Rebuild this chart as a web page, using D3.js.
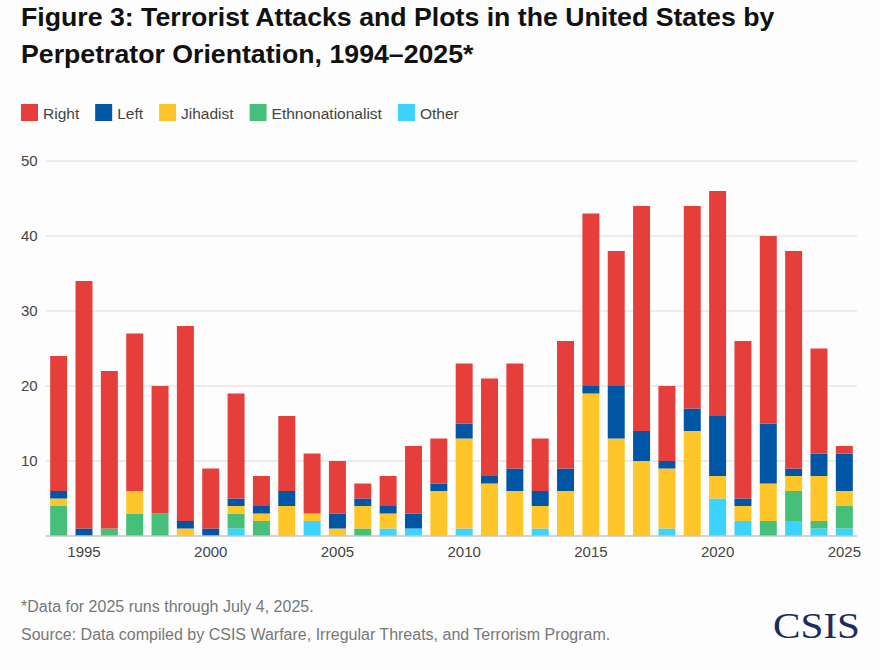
<!DOCTYPE html>
<html>
<head>
<meta charset="utf-8">
<script src="https://cdn.jsdelivr.net/npm/d3@7"></script>
<style>
  html, body { margin: 0; padding: 0; background: #fdfdfd; }
  svg { display: block; font-family: "Liberation Sans", Arial, sans-serif; }
</style>
</head>
<body>
<svg id="chart"></svg>
<script>
// data
const years = d3.range(1994, 2026);
const right = [18, 33, 21, 21, 17, 26, 8, 14, 4, 10, 8, 7, 2, 4, 9, 6, 8, 13, 14, 7, 17, 23, 18, 30, 10, 27, 30, 21, 25, 29, 14, 1];
const left = [1, 1, 0, 0, 0, 1, 1, 1, 1, 2, 0, 2, 1, 1, 2, 1, 2, 1, 3, 2, 3, 1, 7, 4, 1, 3, 8, 1, 8, 1, 3, 5];
const jihadist = [1, 0, 0, 3, 0, 1, 0, 1, 1, 4, 1, 1, 3, 2, 0, 6, 12, 7, 6, 3, 6, 19, 13, 10, 8, 14, 3, 2, 5, 2, 6, 2];
const ethno = [4, 0, 1, 3, 3, 0, 0, 2, 2, 0, 0, 0, 1, 0, 0, 0, 0, 0, 0, 0, 0, 0, 0, 0, 0, 0, 0, 0, 2, 4, 1, 3];
const other = [0, 0, 0, 0, 0, 0, 0, 1, 0, 0, 2, 0, 0, 1, 1, 0, 1, 0, 0, 1, 0, 0, 0, 0, 1, 0, 5, 2, 0, 2, 1, 1];
const yTicks = [10, 20, 30, 40, 50];
const xTicks = [1995, 2000, 2005, 2010, 2015, 2020, 2025];

const series = [
    { key: 'Other', values: other, color: '#3dd3ff' },
    { key: 'Ethnonationalist', values: ethno, color: '#45bf79' },
    { key: 'Jihadist', values: jihadist, color: '#ffc629' },
    { key: 'Left', values: left, color: '#0055a5' },
    { key: 'Right', values: right, color: '#e63e3b' }
];
const legendOrder = ['Right', 'Left', 'Jihadist', 'Ethnonationalist', 'Other'];

const width = 880,
    height = 670;

const svg = d3.select('#chart')
    .attr('width', width)
    .attr('height', height);

// title
const title = svg.append('text')
    .attr('x', 21)
    .attr('y', 26)
    .style('font-weight', 'bold')
    .style('font-size', '26.7px')
    .style('fill', '#111');
title.append('tspan')
    .attr('x', 21)
    .text('Figure 3: Terrorist Attacks and Plots in the United States by');
title.append('tspan')
    .attr('x', 21)
    .attr('dy', 37)
    .text('Perpetrator Orientation, 1994–2025*');

// legend
let lx = 21;
legendOrder.forEach(k => {
    const s = series.find(d => d.key === k);
    const g = svg.append('g').attr('transform', `translate(${lx},104)`);
    g.append('rect')
        .attr('width', 17)
        .attr('height', 17)
        .style('fill', s.color);
    const t = g.append('text')
        .attr('x', 22)
        .attr('y', 14.5)
        .style('font-size', '15.5px')
        .style('fill', '#444')
        .text(k);
    lx += 22 + t.node().getComputedTextLength() + 16;
});

// scales
const x = d3.scaleBand()
    .domain(years)
    .range([46, 857])
    .paddingInner(0.33)
    .paddingOuter(0.165);

const y = d3.scaleLinear()
    .domain([0, 50])
    .range([536, 161]);

// gridlines
svg.append('g')
    .selectAll('line')
    .data(yTicks)
    .enter().append('line')
    .attr('x1', 46)
    .attr('x2', 857)
    .attr('y1', d => y(d))
    .attr('y2', d => y(d))
    .style('stroke', '#e6e6e6')
    .style('stroke-width', 1.5);

svg.append('g')
    .selectAll('text')
    .data(yTicks)
    .enter().append('text')
    .attr('x', 21)
    .attr('y', d => y(d) + 5)
    .style('font-size', '15px')
    .style('fill', '#444')
    .text(d => d);

// stacked bars
const table = years.map((yr, i) => {
    const row = { year: yr };
    series.forEach(s => { row[s.key] = s.values[i]; });
    return row;
});
const stacked = d3.stack().keys(series.map(s => s.key))(table);

svg.append('g')
    .selectAll('g')
    .data(stacked)
    .enter().append('g')
    .style('fill', (d, i) => series[i].color)
    .selectAll('rect')
    .data(d => d)
    .enter().append('rect')
    .attr('x', d => x(d.data.year))
    .attr('width', x.bandwidth())
    .attr('y', d => y(d[1]))
    .attr('height', d => y(d[0]) - y(d[1]));

// baseline
svg.append('line')
    .attr('x1', 46)
    .attr('x2', 857)
    .attr('y1', 536)
    .attr('y2', 536)
    .style('stroke', '#c4c4c4')
    .style('stroke-width', 1.5);

// x ticks
svg.append('g')
    .selectAll('text')
    .data(xTicks)
    .enter().append('text')
    .attr('x', d => x(d) + x.bandwidth() / 2)
    .attr('y', 557)
    .attr('text-anchor', 'middle')
    .style('font-size', '15px')
    .style('fill', '#444')
    .text(d => d);

// footer
svg.append('text')
    .attr('x', 21)
    .attr('y', 612)
    .style('font-size', '16px')
    .style('fill', '#777')
    .text('*Data for 2025 runs through July 4, 2025.');
svg.append('text')
    .attr('x', 21)
    .attr('y', 640)
    .style('font-size', '16px')
    .style('fill', '#777')
    .text('Source: Data compiled by CSIS Warfare, Irregular Threats, and Terrorism Program.');

// logo
svg.append('text')
    .attr('x', 773)
    .attr('y', 638)
    .attr('textLength', 87)
    .attr('lengthAdjust', 'spacingAndGlyphs')
    .style('font-family', '"Liberation Serif", "Times New Roman", serif')
    .style('font-size', '36px')
    .style('fill', '#1b2d5b')
    .text('CSIS');
</script>
</body>
</html>
